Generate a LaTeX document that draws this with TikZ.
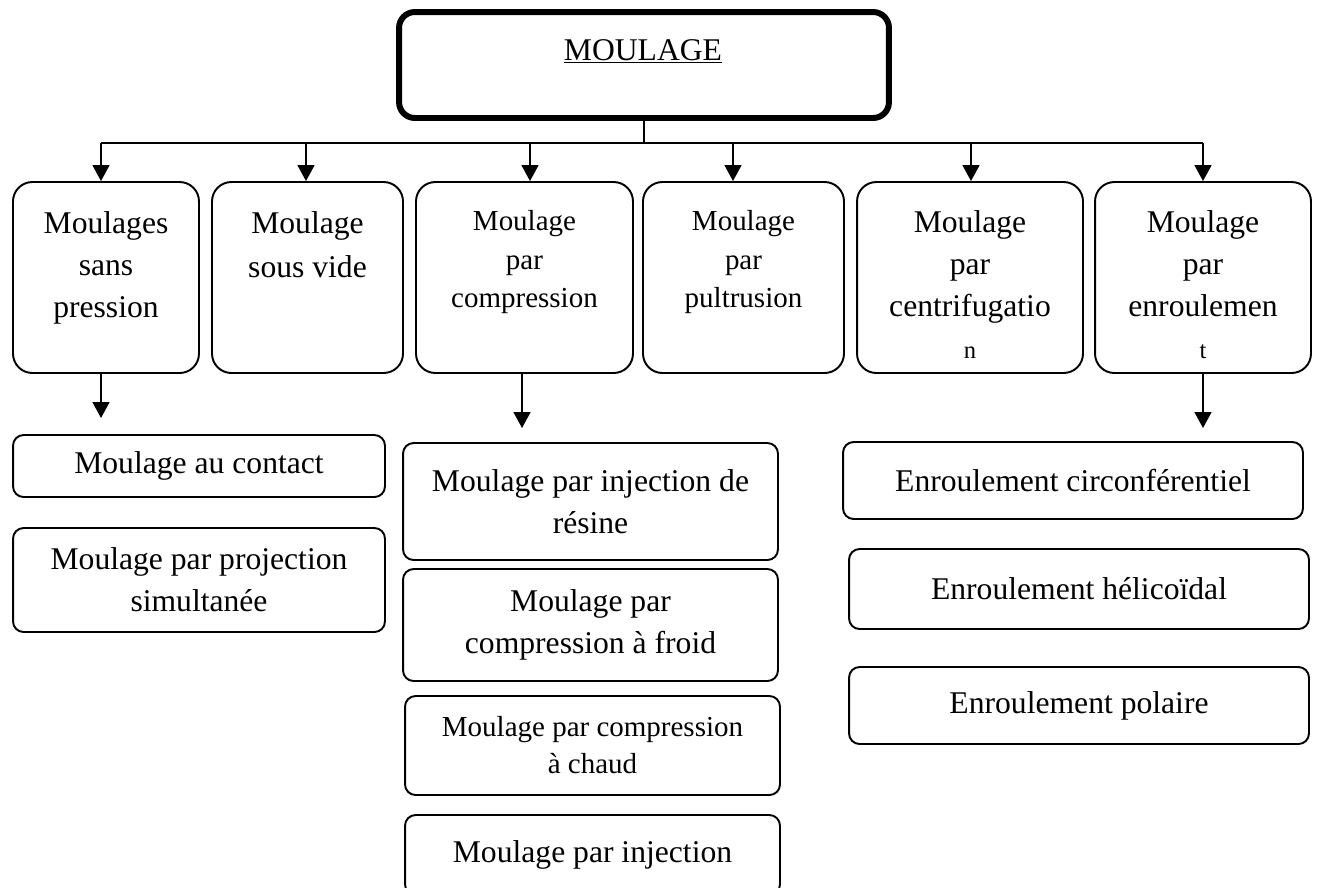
\documentclass[tikz,border=0pt]{standalone}
\usepackage{fontspec}
\setmainfont{Liberation Serif}
\usetikzlibrary{positioning,arrows.meta}

\tikzset{
  mainbox/.style={draw, line width=3.4pt, rounded corners=9pt, minimum width=9.8cm, minimum height=2.12cm},
  rowbox/.style={draw, line width=1.1pt, rounded corners=11pt, minimum height=3.82cm, inner sep=0pt},
  rowtext/.style={align=center, inner sep=0pt, font=\fontsize{18}{24}\selectfont},
  smalltext/.style={align=center, inner sep=0pt, font=\fontsize{16.5}{22}\selectfont},
  subbox/.style={draw, line width=1.1pt, rounded corners=6pt, align=center, inner sep=0pt, font=\fontsize{18}{24}\selectfont},
  arr/.style={line width=1.1pt, -{Triangle[length=9pt,width=9.5pt]}},
}

\begin{document}
\begin{tikzpicture}[x=0.02cm, y=-0.02cm]
	\useasboundingbox (0,0) rectangle (1318,887);

	% Top box
	\node[mainbox] (top) at (644,65) {};
	\node[anchor=base, inner sep=0pt, font=\fontsize{18}{24}\selectfont] (title) at (643,60) {\underline{MOULAGE}};

	% Main branches
	\node[rowbox, minimum width=3.72cm] (b1) at (106,277.5) {};
	\node[rowbox, minimum width=3.82cm] (b2) at (307.5,277.5) {};
	\node[rowbox, minimum width=4.34cm] (b3) at (524.5,277.5) {};
	\node[rowbox, minimum width=4.02cm] (b4) at (743.5,277.5) {};
	\node[rowbox, minimum width=4.52cm] (b5) at (970,277.5) {};
	\node[rowbox, minimum width=4.32cm] (b6) at (1203,277.5) {};

	\node[rowtext, below=17pt of b1.north] (b1txt) {Moulages\\sans\\pression};
	\node[rowtext, below=17pt of b2.north, font=\fontsize{18}{25}\selectfont] (b2txt) {Moulage\\sous vide};
	\node[smalltext, below=16.5pt of b3.north] (b3txt) {Moulage\\par\\compression};
	\node[smalltext, below=16.5pt of b4.north] (b4txt) {Moulage\\par\\pultrusion};
	\node[rowtext, below=16.5pt of b5.north] (b5txt) {Moulage\\par\\centrifugatio\\{\fontsize{14}{24}\selectfont n}};
	\node[rowtext, below=16.5pt of b6.north] (b6txt) {Moulage\\par\\enroulemen\\{\fontsize{14}{24}\selectfont t}};

	% Sub-branches
	\node[subbox, minimum width=7.44cm, minimum height=1.24cm] (contact) at (199,466) {Moulage au contact};
	\node[subbox, minimum width=7.44cm, minimum height=2.08cm] (projection) at (199,580) {Moulage par projection\\simultanée};

	\node[subbox, minimum width=7.5cm, minimum height=2.34cm] (resine) at (590.5,501.5) {Moulage par injection de\\résine};
	\node[subbox, minimum width=7.5cm, minimum height=2.24cm] (froid) at (590.5,625) {Moulage par\\compression à froid};
	\node[subbox, minimum width=7.5cm, minimum height=1.98cm, font=\fontsize{16.5}{21}\selectfont] (chaud) at (592.5,745.5) {Moulage par compression\\à chaud};
	\node[subbox, minimum width=7.5cm, minimum height=1.6cm] (injection) at (592.5,855) {Moulage par injection};

	\node[subbox, minimum width=9.2cm, minimum height=1.54cm] (circ) at (1073,480.5) {Enroulement circonférentiel};
	\node[subbox, minimum width=9.2cm, minimum height=1.6cm] (heli) at (1079,589) {Enroulement hélicoïdal};
	\node[subbox, minimum width=9.2cm, minimum height=1.54cm] (polaire) at (1079,705.5) {Enroulement polaire};

	% Connectors
	\coordinate (bus) at (643,143);
	\foreach \i/\x in {1/101, 2/306, 3/530, 4/733, 5/971, 6/1203}
		\coordinate (t\i) at (\x,143);
	\draw[line width=1.1pt] (top.south) -- (top.south |- bus);
	\draw[line width=1.1pt] (t1) -- (t6);
	\foreach \i in {1,...,6}
		\draw[arr] (t\i) -- (t\i |- b\i.north);

	\coordinate (d1) at (101,418);
	\coordinate (d3) at (522,428);
	\coordinate (d6) at (1203,428);
	\draw[arr] (d1 |- b1.south) -- (d1);
	\draw[arr] (d3 |- b3.south) -- (d3);
	\draw[arr] (d6 |- b6.south) -- (d6);

\end{tikzpicture}
\end{document}
